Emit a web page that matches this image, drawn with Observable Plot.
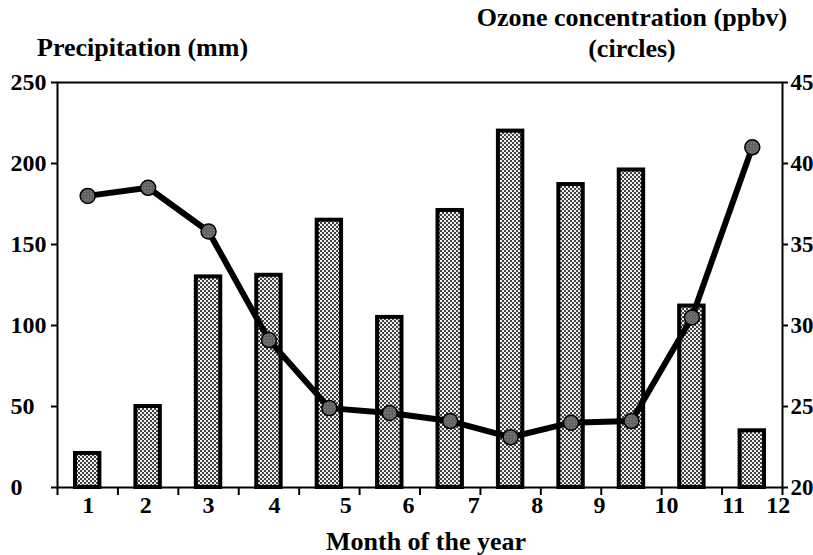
<!DOCTYPE html>
<html>
<head>
<meta charset="utf-8">
<script src="https://cdn.jsdelivr.net/npm/d3@7"></script>
<script src="https://cdn.jsdelivr.net/npm/@observablehq/plot@0.6"></script>
<style>
  body { margin: 0; background: #fff; }
  #wrap { width: 813px; font-family: 'Liberation Serif', 'Times New Roman', serif; font-weight: bold; color: #000; }
  #head { position: relative; height: 70px; font-size: 26px; }
  #head div { position: absolute; white-space: nowrap; line-height: 26px; }
</style>
</head>
<body>
<div id="wrap">
  <div id="head">
    <div style="left:37px; top:35px;">Precipitation (mm)</div>
    <div style="left:452px; width:360px; top:5px; text-align:center;">Ozone concentration (ppbv)</div>
    <div style="left:452px; width:360px; top:36px; text-align:center;">(circles)</div>
  </div>
  <div id="chart"></div>
</div>
<script>
const months = [1, 2, 3, 4, 5, 6, 7, 8, 9, 10, 11, 12];
const precipitation = [21, 50, 130, 131, 165, 105, 171, 220, 187, 196, 112, 35];
const ozone = [38.0, 38.5, 35.8, 29.1, 24.9, 24.6, 24.1, 23.1, 24.0, 24.1, 30.5, 41.0];
const monthLabels = ["1", "2", "3", "4", "5", "6", "7", "8", "9", "10", "11", "12"];
const monthLabelPositions = [0.51, 1.46, 2.50, 3.59, 4.77, 5.81, 6.89, 7.94, 8.97, 10.08, 11.19, 11.93];
const monthTicks = [0, 1, 2, 3, 4, 5, 6, 7, 8, 9, 10, 11, 12];
const precipTicks = [0, 50, 100, 150, 200, 250];
const ozoneTicks = [20, 25, 30, 35, 40, 45];
const xAxisTitle = "Month of the year";

// ozone (20..45 ppbv) is drawn on the precipitation scale (0..250 mm)
const ozoneToY = v => (v - 20) * 10;
const yToOzone = y => y / 10 + 20;

const rows = months.map((m, i) => ({month: m, precip: precipitation[i], ozone: ozone[i]}));
const labelRows = monthLabels.map((l, i) => ({label: l, pos: monthLabelPositions[i]}));

const svg = Plot.plot({
  width: 813,
  height: 485,
  marginLeft: 57,
  marginRight: 31,
  marginTop: 12,
  marginBottom: 68,
  style: {fontFamily: "'Liberation Serif', 'Times New Roman', serif", fontWeight: "bold", fontSize: "24px", color: "#000", background: "#fff", overflow: "visible"},
  x: {domain: [0, 12]},
  y: {domain: [0, 250]},
  marks: [
    Plot.rectY(rows, {x1: d => d.month - 1, x2: d => d.month, y: "precip", insetLeft: 18, insetRight: 18, fill: "url(#stipple)", stroke: "#000", strokeWidth: 4}),
    Plot.line(rows, {x: d => d.month - 0.5, y: d => ozoneToY(d.ozone), stroke: "#000", strokeWidth: 6}),
    Plot.dot(rows, {x: d => d.month - 0.5, y: d => ozoneToY(d.ozone), r: 7.5, fill: "url(#hatch)", stroke: "#000", strokeWidth: 1.5}),
    Plot.frame({stroke: "#000", strokeWidth: 2}),
    Plot.axisX({ticks: monthTicks, tickSize: 8, tickFormat: () => "", label: null, strokeWidth: 2}),
    Plot.text(labelRows, {x: "pos", text: "label", frameAnchor: "bottom", dy: 18, lineAnchor: "middle", fontSize: 24}),
    Plot.text([xAxisTitle], {text: d => d, frameAnchor: "bottom", dx: 6, dy: 54, lineAnchor: "middle", fontSize: 26}),
    Plot.axisY({anchor: "left", ticks: precipTicks, tickSize: 6, tickFormat: () => "", label: null, strokeWidth: 2}),
    Plot.text(precipTicks, {y: d => d, text: d => String(d), frameAnchor: "left", textAnchor: "start", dx: -47, fontSize: 24}),
    Plot.axisY({anchor: "right", ticks: ozoneTicks.map(ozoneToY), tickFormat: d => String(yToOzone(d)), tickSize: 5, tickPadding: 3, label: null, strokeWidth: 2, fontSize: 23})
  ]
});

d3.select(svg).insert("defs", ":first-child").html(`
  <pattern id="stipple" patternUnits="userSpaceOnUse" width="4" height="4">
    <rect width="4" height="4" fill="#eeeeee"/>
    <rect x="0" y="0" width="2" height="2" fill="#444"/>
    <rect x="2" y="2" width="2" height="2" fill="#444"/>
  </pattern>
  <pattern id="hatch" patternUnits="userSpaceOnUse" width="3" height="3">
    <rect width="3" height="3" fill="#4a4a4a"/>
    <rect x="0" y="0" width="1" height="1" fill="#d0d0d0"/>
    <rect x="1.5" y="1.5" width="1" height="1" fill="#d0d0d0"/>
  </pattern>
`);

document.getElementById("chart").appendChild(svg);
</script>
</body>
</html>
